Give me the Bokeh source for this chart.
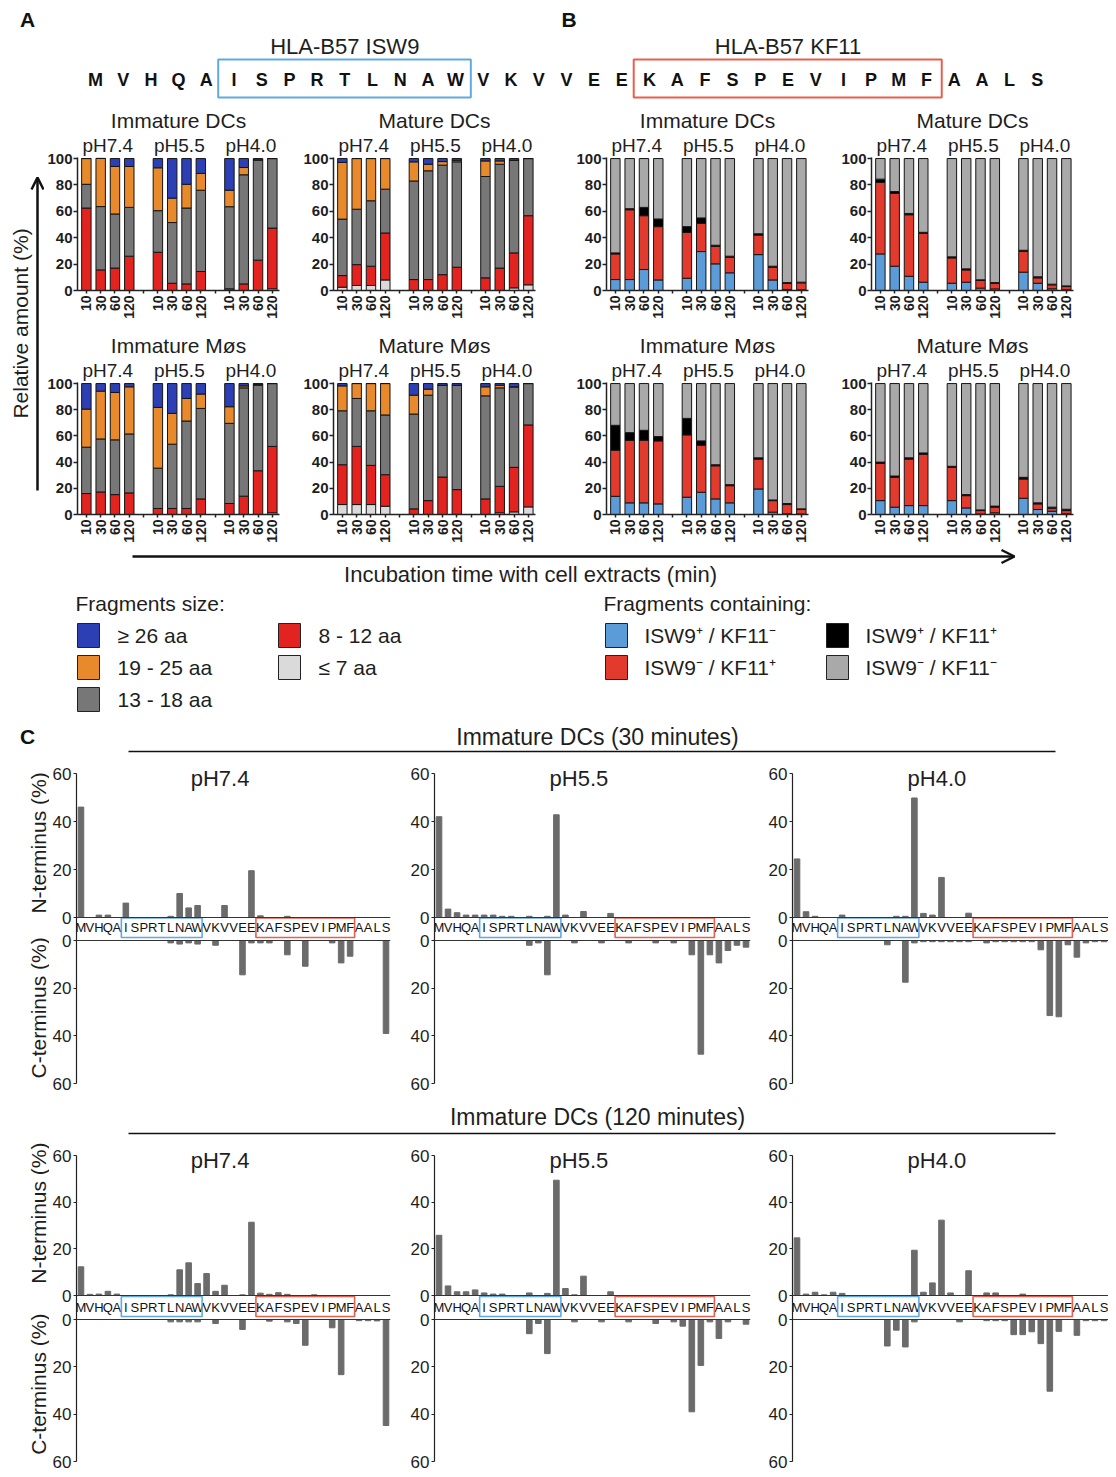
import math
from bokeh.plotting import figure
from bokeh.models import Range1d, FixedTicker, LinearAxis, ColumnDataSource, Span, Arrow, OpenHead, Spacer
from bokeh.layouts import column, row
from bokeh.embed import file_html
from bokeh.resources import INLINE
from bokeh.core.properties import value

FONT_NAME = "Liberation Sans"
FONT = value(FONT_NAME)
TXT = "#1e1e1e"
BARC = "#6b6b6b"

# ---------------- data ----------------
sequence = list("MVHQAISPRTLNAWVKVVEEKAFSPEVIPMFAALS")
epitope_names = ["HLA-B57 ISW9", "HLA-B57 KF11"]
epitope_seqs = ["ISPRTLNAW", "KAFSPEVIPMF"]
epitope_colors = ["#62a9e2", "#e5604e"]
ph_groups = ["pH7.4", "pH5.5", "pH4.0"]
times = ["10", "30", "60", "120"]
cell_types = ["Immature DCs", "Mature DCs", "Immature Møs", "Mature Møs"]

# stacking order bottom -> top
size_labels = ["≤ 7 aa", "8 - 12 aa", "13 - 18 aa", "19 - 25 aa", "≥ 26 aa"]
size_colors = ["#dadada", "#e2231f", "#777777", "#e8892c", "#2c3fb5"]
content_labels = ["ISW9⁺ / KF11⁻", "ISW9⁻ / KF11⁺", "ISW9⁺ / KF11⁺", "ISW9⁻ / KF11⁻"]
content_colors = ["#5b9bd8", "#e23b2e", "#000000", "#a9a9a9"]

# Panel A: fragment size (%), order pH7.4 (10,30,60,120), pH5.5 (...), pH4.0 (...)
imm_dc_le7 = [0, 0, 0, 0, 0, 0, 0, 0, 0, 0, 0, 1.3]
imm_dc_8_12 = [62.5, 15.6, 17, 26, 29, 5.5, 5, 14.4, 1.3, 5, 23, 46]
imm_dc_13_18 = [18, 48, 41, 37, 31.5, 46, 57.5, 61.6, 62.2, 82.7, 76, 52.7]
imm_dc_19_25 = [19.5, 36.5, 36, 31, 32.5, 18.5, 18, 12.7, 12.5, 5.5, 0, 0]
imm_dc_ge26 = [0, 0, 6, 6, 7, 30, 19.5, 11.3, 24, 6.8, 1, 0]

mat_dc_le7 = [2.5, 3.8, 3.8, 8, 0, 0, 0, 0, 0, 0, 2, 4.3]
mat_dc_8_12 = [8.8, 15.8, 14.6, 35.6, 8.3, 8.3, 12, 17.6, 9.6, 17, 26.5, 52.4]
mat_dc_13_18 = [42.8, 42, 49.6, 33.2, 74.7, 82.4, 83, 79.9, 76.8, 78.7, 70.2, 43.3]
mat_dc_19_25 = [43, 38.4, 32, 23.2, 14.5, 5, 2.7, 1.2, 11.8, 2.5, 0, 0]
mat_dc_ge26 = [3, 0, 0, 0, 2.5, 4.3, 2.3, 1.3, 1.8, 1.8, 1.3, 0]

imm_mo_le7 = [0, 0, 0, 0, 0, 0, 0, 0, 0, 0, 0, 1.3]
imm_mo_8_12 = [16, 17.2, 15.2, 16.5, 4.6, 4.6, 4.6, 11.9, 8.4, 14, 33.4, 50.7]
imm_mo_13_18 = [35.4, 40.5, 41.8, 45, 30.8, 49.1, 66.8, 69.1, 61.2, 82.7, 65.3, 48]
imm_mo_19_25 = [29.1, 36.5, 36.2, 36, 46.4, 23.5, 17.2, 11, 12.7, 1.5, 0.7, 0]
imm_mo_ge26 = [19.5, 5.8, 6.8, 2.5, 18.2, 22.8, 11.4, 8, 17.7, 1.8, 0.6, 0]

mat_mo_le7 = [7.6, 7.6, 7.6, 6.3, 0, 0, 0, 0, 0, 1.3, 2, 5.8]
mat_mo_8_12 = [30.4, 44.4, 29.9, 24.1, 4.3, 10.6, 28.6, 19, 11.9, 20.2, 34, 62.6]
mat_mo_13_18 = [41.2, 36.6, 41.7, 45.6, 72.4, 80.5, 70.1, 79.7, 78.7, 75.2, 61.5, 31.6]
mat_mo_19_25 = [19, 11.4, 20.8, 24, 14.4, 4.6, 0, 0, 6.9, 2, 0, 0]
mat_mo_ge26 = [1.8, 0, 0, 0, 8.9, 4.3, 1.3, 1.3, 2.5, 1.3, 2.5, 0]

# Panel B: fragments containing epitopes (%)
imm_dc_isw = [8.3, 8.3, 15.9, 8, 9.3, 29.5, 20.2, 13.4, 27.2, 8, 0.8, 0.5]
imm_dc_kf = [19.4, 52.9, 40.8, 40.4, 34.7, 21.4, 13.3, 11.8, 14.8, 9.6, 4.7, 5.3]
imm_dc_both = [0.8, 0.8, 6.3, 5.8, 4.4, 4.1, 0.8, 0.8, 1, 0.8, 0.5, 0.5]
imm_dc_none = [71.5, 38, 37, 45.8, 51.6, 45, 65.7, 74, 57, 81.6, 94, 93.7]

mat_dc_isw = [27.7, 18.4, 10.8, 6.3, 5.5, 6.3, 1.8, 1.2, 13.9, 5.5, 1.3, 0.5]
mat_dc_kf = [54.2, 55.2, 46.6, 37, 19.2, 9.3, 5.8, 4.3, 15.8, 4.1, 3, 2.5]
mat_dc_both = [2.5, 1.4, 1, 0.8, 0.8, 0.8, 0.5, 0.5, 0.8, 0.8, 0.5, 0.5]
mat_dc_none = [15.6, 25, 41.6, 55.9, 74.5, 83.6, 91.9, 94, 69.5, 89.6, 95.2, 96.5]

imm_mo_isw = [13.9, 8.9, 8.9, 8.1, 13.2, 17, 11.9, 8.9, 19.5, 1.8, 0.5, 0.3]
imm_mo_kf = [35.2, 47.8, 47.8, 48.1, 47.6, 35.9, 25.3, 13.1, 22.8, 8.8, 7.1, 3.5]
imm_mo_both = [19, 5.8, 7.6, 3.3, 12.6, 3.3, 0.8, 0.8, 1, 0.5, 0.8, 0.5]
imm_mo_none = [31.9, 37.5, 35.7, 40.5, 26.6, 43.8, 62, 77.2, 56.7, 88.9, 91.6, 95.7]

mat_mo_isw = [10.6, 5.6, 6.8, 6.8, 10.6, 5, 0.3, 1.3, 12.4, 3.8, 2.5, 0.5]
mat_mo_kf = [28.4, 22.8, 35.5, 39.2, 25.4, 9.4, 2.7, 4.3, 14.7, 4.3, 2.3, 2.5]
mat_mo_both = [1, 1, 1, 1, 0.8, 0.8, 0.5, 0.8, 1.3, 0.8, 0.8, 1]
mat_mo_none = [60, 70.6, 56.7, 53, 63.2, 84.8, 96.5, 93.6, 71.6, 91.1, 94.4, 96]

# Panel C: cleavage sites, immature DCs (% per residue)
n30_ph74 = [46, 0, 1, 1, 0, 6, 0, 0, 0, 0, 0.5, 10, 4, 5, 0, 0, 5, 0, 0, 19.5, 0.7, 0, 0, 0.5, 0, 0, 0, 0, 0, 0, 0, 0, 0, 0, 0]
c30_ph74 = [0, 0, 0, 0, 0, 0, 0, 0, 0, 0, 1, 1.5, 1, 1.5, 0, 2, 0, 0, 14.4, 1, 1, 1, 0, 6, 0, 10.8, 0, 0, 1, 9.4, 6.6, 0, 0, 0, 39]
n30_ph55 = [42, 3.5, 2, 1, 1, 1, 1, 0.5, 0.5, 0, 0.5, 0, 0.5, 42.8, 1, 0, 2.5, 0, 0, 1.7, 0, 0, 0, 0, 0, 0, 0, 0, 0, 0, 0, 0, 0, 0, 0]
c30_ph55 = [0, 0, 0, 0, 0, 0, 0, 0, 0, 0, 2, 1, 14.4, 0, 0, 1, 0, 0, 1, 0, 0, 1, 0, 0, 1, 0, 1, 0, 6, 47.7, 6, 9.4, 4.2, 2, 2.8]
n30_ph40 = [24.4, 2.4, 0.5, 0, 0, 1, 0, 0, 0, 0, 0, 0.5, 0.5, 49.8, 1.7, 1, 16.7, 0, 0, 1.8, 0, 0, 0, 0, 0, 0, 0, 0, 0, 0, 0, 0, 0, 0, 0]
c30_ph40 = [0, 0, 0, 0, 0, 0, 0, 0, 0, 0, 1.8, 0, 17.5, 1, 0.5, 0.5, 0.5, 0.5, 0.5, 0.5, 0, 1, 0.5, 0.5, 0.5, 0.5, 0.5, 3.9, 31.5, 32, 1.8, 7, 1, 0.5, 0.5]
n120_ph74 = [12.3, 0.5, 0.6, 1.8, 0.6, 0, 0, 0, 0, 0, 0.3, 11, 14, 5.1, 9.4, 1.8, 4.4, 0, 0.3, 31.4, 1, 0.5, 1.2, 0.5, 0, 0, 0.3, 0, 0, 0, 0, 0, 0, 0, 0]
c120_ph74 = [0, 0, 0, 0, 0, 0, 0, 0, 0, 0, 1, 1, 1, 1, 0, 1.7, 0, 0, 4.2, 0, 0, 0.7, 0, 1, 1.7, 10.9, 0, 0, 3.5, 23.3, 0, 0.5, 0.5, 0.6, 44.8]
n120_ph55 = [25.8, 4.1, 1.6, 1.6, 2.4, 1.1, 0.6, 0.6, 0, 0, 1.1, 0, 0.9, 49.4, 3, 0.3, 8.3, 0, 0, 1.6, 0, 0, 0, 0, 0, 0, 0, 0, 0, 0, 0, 0, 0, 0, 0]
c120_ph55 = [0, 0, 0, 0, 0, 0, 0, 0, 0, 0, 6, 1.7, 14.4, 0, 0, 1, 0, 0, 1, 0, 0, 1, 0, 0, 1.7, 0, 1, 2.8, 39, 19.4, 1, 8, 1, 0, 2]
n120_ph40 = [24.7, 0.6, 1.4, 0.3, 1.4, 0.9, 0, 0, 0, 0, 0, 0, 0, 19.4, 1.4, 5.4, 32.3, 1.1, 0, 10.6, 0, 1.1, 1.1, 0, 0, 0.6, 0, 0, 0, 0, 0, 0, 0, 0, 0]
c120_ph40 = [0, 0, 0, 0, 0, 0, 0, 0, 0, 0, 11.2, 4.5, 11.6, 1, 0, 0, 0, 0, 1, 0, 0, 0.5, 0.5, 0.5, 6.4, 6.4, 5.2, 10.2, 30.3, 5, 0, 6.7, 0.5, 0.5, 0.5]
c_ticks = [0, 20, 40, 60]

# ---------------- helpers ----------------
seq_str = "".join(sequence)
res_idx = list(range(len(sequence)))
bar_x = [g * (len(times) + 1) + t for g in range(len(ph_groups)) for t in range(len(times))]
group_centers = [g * (len(times) + 1) + (len(times) - 1) / 2 for g in range(len(ph_groups))]


def blank(width, height, xr, yr):
    p = figure(width=width, height=height, output_backend="svg", toolbar_location=None,
               x_range=xr, y_range=yr, x_axis_location=None, y_axis_location=None,
               min_border=0, min_border_left=0, min_border_right=0, min_border_top=0, min_border_bottom=0)
    p.grid.visible = False
    p.outline_line_color = None
    return p


def style_axis(ax, size, bold=False, lw=1.5):
    ax.major_label_text_font = FONT_NAME
    ax.major_label_text_font_size = size
    ax.major_label_text_font_style = "bold" if bold else "normal"
    ax.major_label_text_color = TXT
    ax.axis_line_color = "#222222"
    ax.axis_line_width = lw
    ax.major_tick_line_color = "#222222"
    ax.major_tick_line_width = lw
    ax.major_tick_out = 4
    ax.major_tick_in = 0
    ax.minor_tick_line_color = None


def stacked(title, series, colors, width, height, b_top, b_bottom, b_right):
    data = {"x": bar_x}
    names = []
    for i, s in enumerate(series):
        data[f"s{i}"] = s
        names.append(f"s{i}")
    src = ColumnDataSource(data)
    p = figure(width=width, height=height, output_backend="svg", toolbar_location=None,
               x_range=Range1d(-0.62, bar_x[-1] + 0.5), y_range=Range1d(0, 100.8),
               min_border_left=32, min_border_right=b_right, min_border_top=b_top,
               min_border_bottom=b_bottom, title=title)
    p.vbar_stack(names, x="x", width=0.66, color=colors, line_color="#151515", line_width=1, source=src)
    p.grid.visible = False
    p.outline_line_color = None
    p.title.align = "center"
    p.title.text_font = FONT_NAME
    p.title.text_font_size = "21px"
    p.title.text_font_style = "normal"
    p.title.text_color = TXT
    p.title.standoff = 0
    # x axis (below): incubation times
    xb = p.below[0]
    tick_pos = list(range(bar_x[-1] + 1))
    overrides = {t: "" for t in tick_pos}
    for x, lab in zip(bar_x, times * len(ph_groups)):
        overrides[x] = lab
    xb.ticker = FixedTicker(ticks=tick_pos)
    xb.major_label_overrides = overrides
    xb.major_label_orientation = math.pi / 2
    style_axis(xb, "14px", bold=True)
    xb.major_tick_out = 3
    xb.major_label_standoff = 2
    yl = p.left[0]
    yl.ticker = FixedTicker(ticks=[0, 20, 40, 60, 80, 100])
    style_axis(yl, "15px", bold=True)
    yl.major_label_standoff = 1
    # pH group labels above
    ax = LinearAxis(ticker=FixedTicker(ticks=group_centers),
                    major_label_overrides={c: ph for c, ph in zip(group_centers, ph_groups)})
    ax.axis_line_color = None
    ax.major_tick_line_color = None
    ax.minor_tick_line_color = None
    ax.major_tick_out = 0
    ax.major_label_text_font = FONT_NAME
    ax.major_label_text_font_size = "19px"
    ax.major_label_text_color = TXT
    ax.major_label_standoff = 2
    p.add_layout(ax, "above")
    return p


def cleave_panel(nvals, cvals, ph, width, bl, br, bb, lay):
    """N-terminus bars (up) and C-terminus bars (down) sharing one frame.
    lay: page-pixel layout of the frame (top, n60, n0, c0, c60, bottom, letters, box_top, box_bottom)."""
    top, n60, n0, c0, c60, bottom, ly, bt, bbx = lay
    sn = (n0 - n60) / 60.0
    sc = (c60 - c0) / 60.0

    def nu(px):
        return (n0 - px) / sn

    def cu(px):
        return (px - c0) / sc

    height = int(round(bottom - top)) + bb
    p = figure(width=width, height=height, output_backend="svg", toolbar_location=None,
               x_range=Range1d(-0.5, len(sequence) - 0.5), y_range=Range1d(nu(bottom), nu(top)),
               x_axis_location=None, min_border_left=bl, min_border_right=br,
               min_border_top=0, min_border_bottom=bb)
    p.extra_y_ranges = {"c": Range1d(start=cu(bottom), end=cu(top))}
    p.grid.visible = False
    p.outline_line_color = None
    p.vbar(x=res_idx, top=nvals, bottom=0, width=0.62, color=BARC)
    p.vbar(x=res_idx, top=cvals, bottom=0, width=0.62, color=BARC, y_range_name="c")
    p.add_layout(Span(location=0, dimension="width", line_color="#333333", line_width=1.2))
    p.add_layout(Span(location=0, dimension="width", line_color="#333333", line_width=1.2, y_range_name="c"))
    p.text(x=[15.5], y=[nu(n60 + 5)], text=[ph], text_align="center", text_baseline="middle",
           text_font=FONT, text_font_size="22px", text_color=TXT)
    p.text(x=res_idx, y=[nu(ly)] * len(sequence), text=sequence, text_align="center",
           text_baseline="middle", text_font=FONT, text_font_size="13px", text_color="#111111")
    for ep, col in zip(epitope_seqs, epitope_colors):
        s = seq_str.find(ep)
        e = s + len(ep)
        p.quad(left=[s - 0.5], right=[e - 0.5], top=[nu(bt)], bottom=[nu(bbx)],
               fill_color=None, line_color=col, line_width=1.6)
    # one left axis carrying both scales (N up, C down)
    n_pos = [float(v) for v in c_ticks]
    c_pos = [round(nu(c0 + v * sc), 6) for v in c_ticks]
    overrides = {}
    for v, pos in zip(c_ticks, n_pos):
        overrides[pos] = str(v)
    for v, pos in zip(c_ticks, c_pos):
        overrides[pos] = str(v)
    yl = p.left[0]
    yl.ticker = FixedTicker(ticks=c_pos + n_pos)
    yl.major_label_overrides = overrides
    yl.bounds = (nu(c60), 60)
    style_axis(yl, "17px", lw=1.2)
    yl.major_tick_out = 3
    yl.major_label_standoff = 2
    return p


def side_labels(width, top, bottom, texts, ys):
    f = blank(width, int(round(bottom - top)), Range1d(8, 8 + width), Range1d(bottom, top))
    f.text(x=[38] * len(texts), y=ys, text=texts, angle=math.pi / 2, text_align="center",
           text_baseline="middle", text_font=FONT, text_font_size="21px", text_color=TXT)
    return f


# ---------------- header (sequence) ----------------
header = blank(1100, 92, Range1d(-3.14, 36.57), Range1d(100, 8))
header.text(x=res_idx, y=[79] * len(sequence), text=sequence, text_align="center", text_baseline="middle",
            text_font=FONT, text_font_style="bold", text_font_size="18px", text_color="#111111")
for name, ep, col in zip(epitope_names, epitope_seqs, epitope_colors):
    s = seq_str.find(ep)
    e = s + len(ep)
    header.quad(left=[s - 0.57], right=[e - 1 + 0.55], top=[59], bottom=[97], fill_color=None,
                line_color=col, line_width=2)
    header.text(x=[(s + e - 1) / 2], y=[46], text=[name], text_align="center", text_baseline="middle",
                text_font=FONT, text_font_size="22px", text_color=TXT)
header.text(x=[-2.45, 17.1], y=[19, 19], text=["A", "B"], text_align="center", text_baseline="middle",
            text_font=FONT, text_font_style="bold", text_font_size="21px", text_color="#111111")

# ---------------- panels A & B ----------------
size_series = {
    "Immature DCs": [imm_dc_le7, imm_dc_8_12, imm_dc_13_18, imm_dc_19_25, imm_dc_ge26],
    "Mature DCs": [mat_dc_le7, mat_dc_8_12, mat_dc_13_18, mat_dc_19_25, mat_dc_ge26],
    "Immature Møs": [imm_mo_le7, imm_mo_8_12, imm_mo_13_18, imm_mo_19_25, imm_mo_ge26],
    "Mature Møs": [mat_mo_le7, mat_mo_8_12, mat_mo_13_18, mat_mo_19_25, mat_mo_ge26],
}
content_series = {
    "Immature DCs": [imm_dc_isw, imm_dc_kf, imm_dc_both, imm_dc_none],
    "Mature DCs": [mat_dc_isw, mat_dc_kf, mat_dc_both, mat_dc_none],
    "Immature Møs": [imm_mo_isw, imm_mo_kf, imm_mo_both, imm_mo_none],
    "Mature Møs": [mat_mo_isw, mat_mo_kf, mat_mo_both, mat_mo_none],
}
col_widths = [256, 273, 265, 270]
col_right = [21, 38, 30, 35]


def bar_row(cells, height, b_top, b_bottom):
    figs = []
    for k, cell in enumerate(cells):
        figs.append(stacked(cell, size_series[cell], size_colors, col_widths[k], height, b_top, b_bottom,
                            col_right[k]))
    for k, cell in enumerate(cells):
        figs.append(stacked(cell, content_series[cell], content_colors, col_widths[k + 2], height, b_top,
                            b_bottom, col_right[k + 2]))
    return row(*figs)


top_bars = bar_row(cell_types[:2], 230, 57, 40)
bottom_bars = bar_row(cell_types[2:], 215, 52, 31)

left = blank(36, 445, Range1d(8, 44), Range1d(545, 100))
left.add_layout(Arrow(end=OpenHead(size=12, line_width=2.5, line_color="#111111"), x_start=37, y_start=490,
                      x_end=37, y_end=177, line_width=2.5, line_color="#111111"))
left.text(x=[20], y=[323], text=["Relative amount (%)"], angle=math.pi / 2, text_align="center",
          text_baseline="middle", text_font=FONT, text_font_size="21px", text_color=TXT)

bars_block = row(left, column(top_bars, bottom_bars))

# ---------------- time arrow and legends ----------------
leg = blank(1100, 175, Range1d(8, 1108), Range1d(720, 545))
leg.add_layout(Arrow(end=OpenHead(size=13, line_width=2.5, line_color="#111111"), x_start=132, y_start=556,
                     x_end=1014, y_end=556, line_width=2.5, line_color="#111111"))
leg.text(x=[530], y=[574], text=["Incubation time with cell extracts (min)"], text_align="center",
         text_baseline="middle", text_font=FONT, text_font_size="22px", text_color=TXT)
leg.text(x=[75, 603], y=[603, 603], text=["Fragments size:", "Fragments containing:"], text_align="left",
         text_baseline="middle", text_font=FONT, text_font_size="21px", text_color=TXT)
row_y = [635, 667, 699]
size_legend = list(reversed(list(zip(size_labels, size_colors))))
sx = [88 + 201 * (i // 3) for i in range(len(size_legend))]
sy = [row_y[i % 3] for i in range(len(size_legend))]
leg.rect(x=sx, y=sy, width=22, height=24, fill_color=[c for _, c in size_legend], line_color="#222222",
         line_width=1)
leg.text(x=[x + 29 for x in sx], y=sy, text=[l for l, _ in size_legend], text_align="left",
         text_baseline="middle", text_font=FONT, text_font_size="21px", text_color=TXT)
cx = [616 + 221 * (i // 2) for i in range(len(content_labels))]
cy = [row_y[i % 2] for i in range(len(content_labels))]
leg.rect(x=cx, y=cy, width=22, height=24, fill_color=content_colors, line_color="#222222", line_width=1)
leg.text(x=[x + 28 for x in cx], y=cy, text=content_labels, text_align="left", text_baseline="middle",
         text_font=FONT, text_font_size="21px", text_color=TXT)


# ---------------- panel C ----------------
def c_header(height, y0, y1, title, y_title, y_line, with_letter):
    h = blank(1100, height, Range1d(8, 1108), Range1d(y1, y0))
    h.text(x=[597], y=[y_title], text=[title], text_align="center", text_baseline="middle",
           text_font=FONT, text_font_size="23px", text_color=TXT)
    h.segment(x0=[128], y0=[y_line], x1=[1055], y1=[y_line], line_color="#111111", line_width=1.6)
    if with_letter:
        h.text(x=[27], y=[y_title], text=["C"], text_align="center", text_baseline="middle",
               text_font=FONT, text_font_style="bold", text_font_size="21px", text_color="#111111")
    return h


label_w = 41
cw = [357, 358, 344]
cbl = [25, 28, 28]
cbr = [16, 14, 0]

# frame layout in page pixels: top, N60, N0, C0, C60, bottom, letters, box top, box bottom
lay30 = (760, 773, 917, 940, 1083, 1085, 927, 917.5, 937)
lay120 = (1142, 1155, 1295, 1319, 1461, 1463, 1307, 1296, 1316)
bb30, bb120 = 10, 11

head30 = c_header(40, 720, 760, "Immature DCs (30 minutes)", 736, 751, True)
n30 = [n30_ph74, n30_ph55, n30_ph40]
c30 = [c30_ph74, c30_ph55, c30_ph40]
row30 = row(side_labels(label_w, lay30[0], lay30[5] + bb30, ["N-terminus (%)", "C-terminus (%)"], [845, 1015]),
            *[cleave_panel(n30[k], c30[k], ph_groups[k], cw[k], cbl[k], cbr[k], bb30, lay30)
              for k in range(3)])

head120 = c_header(47, 1095, 1142, "Immature DCs (120 minutes)", 1116, 1133, False)
n120 = [n120_ph74, n120_ph55, n120_ph40]
c120 = [c120_ph74, c120_ph55, c120_ph40]
row120 = row(side_labels(label_w, lay120[0], lay120[5] + bb120, ["N-terminus (%)", "C-terminus (%)"],
                         [1215, 1392]),
             *[cleave_panel(n120[k], c120[k], ph_groups[k], cw[k], cbl[k], cbr[k], bb120, lay120)
               for k in range(3)])

content = column(header, bars_block, leg, head30, row30, head120, row120)
page = column(Spacer(width=1108, height=8), row(Spacer(width=8, height=1466), content))

with open("out.html", "w", encoding="utf-8") as f:
    f.write(file_html(page, INLINE, title="Peptide processing"))
